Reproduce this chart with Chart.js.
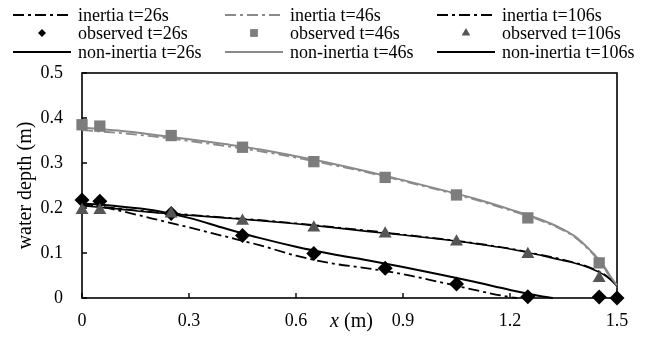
<!DOCTYPE html>
<html><head><meta charset="utf-8">
<script src="https://cdn.jsdelivr.net/npm/chart.js@4/dist/chart.umd.min.js"></script>
<style>html,body{margin:0;padding:0;background:#fff}#wrap{width:647px;height:341px;position:relative}</style>
</head><body><div id="wrap"><canvas id="c"></canvas></div>
<script>
// ---- data ----
const seriesLabels = ['inertia t=26s','inertia t=46s','inertia t=106s',
  'observed t=26s','observed t=46s','observed t=106s',
  'non-inertia t=26s','non-inertia t=46s','non-inertia t=106s'];
const xTicks = [0,0.3,0.6,0.9,1.2,1.5];
const yTicks = [0,0.1,0.2,0.3,0.4,0.5];

const xNonInertia26 = [0,0.1,0.2,0.3,0.4,0.5,0.6,0.7,0.8,0.9,1.0,1.1,1.2,1.28,1.32];
const nonInertia26  = [0.210,0.204,0.195,0.178,0.155,0.133,0.114,0.098,0.084,0.069,0.053,0.036,0.018,0.005,0.0];
const xInertia26 = [0,0.05,0.1,0.2,0.3,0.4,0.5,0.6,0.7,0.8,0.9,1.0,1.1,1.2,1.22];
const inertia26  = [0.210,0.203,0.195,0.176,0.157,0.137,0.117,0.094,0.077,0.066,0.053,0.036,0.018,0.002,0.0];

const xModel = [0,0.1,0.2,0.3,0.4,0.5,0.6,0.7,0.8,0.9,1.0,1.1,1.2,1.28,1.34,1.38,1.42,1.46,1.48,1.5];
const nonInertia46  = [0.379,0.372,0.363,0.353,0.342,0.330,0.315,0.299,0.281,0.262,0.242,0.221,0.197,0.176,0.156,0.138,0.110,0.075,0.050,0.028];
const inertia46     = [0.373,0.367,0.359,0.349,0.338,0.326,0.312,0.296,0.279,0.260,0.240,0.219,0.195,0.174,0.154,0.136,0.108,0.072,0.047,0.024];
const nonInertia106 = [0.205,0.198,0.190,0.184,0.178,0.172,0.165,0.157,0.148,0.140,0.131,0.121,0.109,0.096,0.085,0.078,0.068,0.053,0.042,0.026];
const inertia106    = [0.207,0.199,0.191,0.185,0.179,0.173,0.166,0.158,0.150,0.141,0.132,0.122,0.110,0.097,0.087,0.079,0.069,0.055,0.043,0.028];

const xObs26 = [0,0.05,0.25,0.45,0.65,0.85,1.05,1.25,1.45,1.5];
const observed26 = [0.218,0.215,0.188,0.139,0.099,0.066,0.031,0.003,0.002,0.0];
const xObs = [0,0.05,0.25,0.45,0.65,0.85,1.05,1.25,1.45];
const observed46  = [0.385,0.382,0.361,0.335,0.303,0.268,0.229,0.178,0.078];
const observed106 = [0.195,0.195,0.187,0.171,0.156,0.143,0.125,0.097,0.044];

// ---- styling ----
const FONT = "'Liberation Serif','Times New Roman',serif";
const BLACK = '#000000', GRAY = '#8a8a8a', SQ = '#7d7d7d', TRI = '#555555';
const DASHDOT = [11,4,3,4];
const pts = (xs, ys) => xs.map((x, i) => ({x, y: ys[i]}));

function lineDs(label, xs, ys, color, dash, width, order) {
  return {label, data: pts(xs, ys), borderColor: color, backgroundColor: color,
    borderWidth: width, borderDash: dash, pointRadius: 0, pointHoverRadius: 0,
    showLine: true, fill: false, cubicInterpolationMode: 'monotone', clip: false, order};
}
function obsDs(label, xs, ys, color, style, r, order) {
  return {label, data: pts(xs, ys), showLine: false, pointStyle: style,
    pointRadius: r, pointHoverRadius: r, pointBackgroundColor: color,
    pointBorderColor: color, pointBorderWidth: 0, backgroundColor: color,
    borderColor: color, clip: false, order};
}

const datasets = [
  lineDs(seriesLabels[0], xInertia26, inertia26, BLACK, DASHDOT, 1.8, 5),
  lineDs(seriesLabels[1], xModel, inertia46, GRAY, DASHDOT, 1.8, 5),
  lineDs(seriesLabels[2], xModel, inertia106, BLACK, DASHDOT, 1.6, 5),
  obsDs(seriesLabels[3], xObs26, observed26, BLACK, 'rectRot', 7.5, 2),
  obsDs(seriesLabels[4], xObs, observed46, SQ, 'rect', 8, 1),
  obsDs(seriesLabels[5], xObs, observed106, TRI, 'triangle', 7.5, 0),
  lineDs(seriesLabels[6], xNonInertia26, nonInertia26, BLACK, [], 2, 4),
  lineDs(seriesLabels[7], xModel, nonInertia46, GRAY, [], 2, 4),
  lineDs(seriesLabels[8], xModel, nonInertia106, BLACK, [], 1.6, 4)
];

const legendMarkerR = [0, 0, 0, 4, 5.5, 5];

const framePlugin = {
  id: 'frame',
  beforeDatasetsDraw(chart) {
    const {ctx, chartArea: a, scales} = chart;
    ctx.save();
    ctx.strokeStyle = '#000'; ctx.lineWidth = 1.6;
    ctx.strokeRect(a.left, a.top, a.right - a.left, a.bottom - a.top);
    ctx.lineWidth = 1.4;
    ctx.beginPath();
    scales.x.ticks.forEach(t => {
      const px = scales.x.getPixelForValue(t.value);
      ctx.moveTo(px, a.bottom); ctx.lineTo(px, a.bottom - 5);
    });
    scales.y.ticks.forEach(t => {
      const py = scales.y.getPixelForValue(t.value);
      ctx.moveTo(a.left, py); ctx.lineTo(a.left + 5, py);
    });
    ctx.stroke();
    ctx.restore();
  },
  afterDraw(chart) {
    const {ctx, chartArea: a} = chart;
    ctx.save();
    // x axis title: italic x + (m)
    ctx.fillStyle = '#000';
    ctx.textBaseline = 'middle';
    const cx = (a.left + a.right) / 2 + 2;
    ctx.font = 'italic 20px ' + FONT;
    const w1 = ctx.measureText('x').width;
    ctx.font = '20px ' + FONT;
    const w2 = ctx.measureText(' (m)').width;
    let sx = cx - (w1 + w2) / 2;
    ctx.font = 'italic 20px ' + FONT;
    ctx.textAlign = 'left';
    ctx.fillText('x', sx, 322);
    ctx.font = '20px ' + FONT;
    ctx.fillText(' (m)', sx + w1, 322);

    // legend, 3 columns x 3 rows
    const colText = [78, 290, 502];
    const rowY = [15, 33, 52];
    ctx.font = '18px ' + FONT;
    chart.data.datasets.forEach((ds, i) => {
      const col = i % 3, row = Math.floor(i / 3);
      const tx = colText[col], y = rowY[row];
      const x0 = tx - 65, x1 = tx - 7;
      if (ds.showLine) {
        ctx.save();
        ctx.strokeStyle = ds.borderColor;
        ctx.lineWidth = 1.8;
        ctx.setLineDash(ds.borderDash || []);
        ctx.beginPath(); ctx.moveTo(x0, y); ctx.lineTo(x1, y); ctx.stroke();
        ctx.restore();
      } else {
        ctx.save();
        ctx.fillStyle = ds.pointBackgroundColor;
        ctx.strokeStyle = ds.pointBackgroundColor;
        Chart.helpers.drawPoint(ctx, {pointStyle: ds.pointStyle, radius: legendMarkerR[col + 3], borderWidth: 0, rotation: 0}, (x0 + x1) / 2, y);
        ctx.restore();
      }
      ctx.fillStyle = '#000';
      ctx.textAlign = 'left';
      ctx.textBaseline = 'middle';
      ctx.fillText(ds.label, tx, y + 1);
    });
    ctx.restore();
  }
};

Chart.defaults.font.family = FONT;
Chart.defaults.color = '#000';

new Chart(document.getElementById('c'), {
  type: 'scatter',
  data: {datasets},
  options: {
    responsive: true, maintainAspectRatio: false, animation: false,
    layout: {padding: {top: 73, right: 30, left: 0, bottom: 0}},
    plugins: {legend: {display: false}, tooltip: {enabled: false}},
    scales: {
      x: {
        type: 'linear', min: 0, max: 1.5,
        afterBuildTicks: s => { s.ticks = xTicks.map(v => ({value: v})); },
        afterFit: s => { s.height = 43; },
        grid: {display: false, drawTicks: false},
        border: {display: false},
        ticks: {padding: 12, font: {size: 18}, color: '#000', maxRotation: 0,
          callback: v => String(v)}
      },
      y: {
        type: 'linear', min: 0, max: 0.5,
        afterBuildTicks: s => { s.ticks = yTicks.map(v => ({value: v})); },
        afterFit: s => { s.width = 82; },
        grid: {display: false, drawTicks: false},
        border: {display: false},
        ticks: {padding: 19, font: {size: 18}, color: '#000', callback: v => String(v)},
        title: {display: true, text: 'water depth (m)', font: {size: 20}, color: '#000', padding: {top: 14, bottom: 0}}
      }
    }
  },
  plugins: [framePlugin]
});
</script>
</body></html>
